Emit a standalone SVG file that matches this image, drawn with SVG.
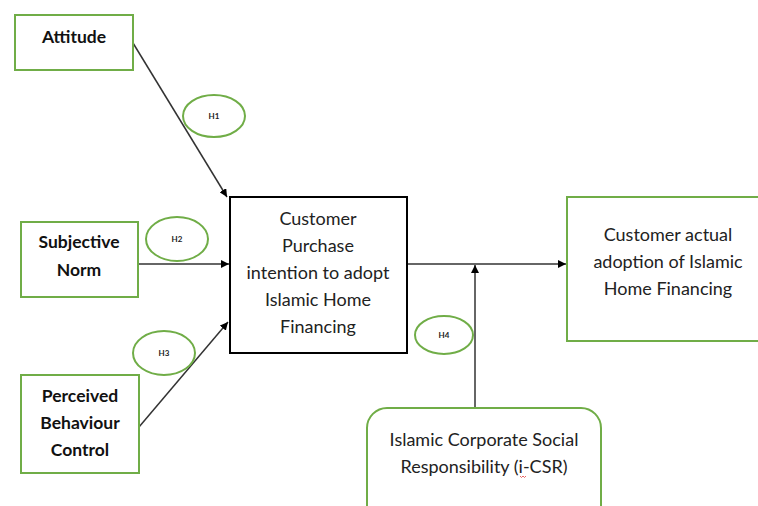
<svg xmlns="http://www.w3.org/2000/svg" width="758" height="506" viewBox="0 0 758 506">
<style>
.g{fill:#fff;stroke:#70AD47;stroke-width:2}
.k{fill:#fff;stroke:#000;stroke-width:2}
.e{fill:none;stroke:#70AD47;stroke-width:2}
.b{font-family:Lato,"Liberation Sans",sans-serif;font-weight:bold;font-size:17.5px;fill:#111;text-anchor:middle}
.t{font-family:Lato,"Liberation Sans",sans-serif;font-size:18px;fill:#222;text-anchor:middle}
.h{font-family:Lato,"Liberation Sans",sans-serif;font-size:8px;font-weight:bold;fill:#222;text-anchor:middle}
.c{stroke:#333;stroke-width:1.5;fill:none;marker-end:url(#a)}
</style>
<defs>
<marker id="a" viewBox="0 0 10 10" refX="10" refY="5" markerWidth="8" markerHeight="8" markerUnits="userSpaceOnUse" orient="auto">
<path d="M0,0 L10,5 L0,10 z" fill="#000"/>
</marker>
</defs>
<rect width="758" height="506" fill="#fff"/>
<g id="connectors">
<line class="c" x1="133" y1="43" x2="227" y2="197"/>
<line class="c" x1="138" y1="264" x2="229" y2="264"/>
<line class="c" x1="139" y1="427" x2="228" y2="322"/>
<line class="c" x1="407" y1="264" x2="566" y2="264"/>
<line class="c" x1="475" y1="408" x2="475" y2="265"/>
</g>
<g id="attitude">
<rect class="g" x="15" y="15" width="118" height="55"/>
<text class="b" x="74" y="43">Attitude</text>
</g>
<g id="subjective-norm">
<rect class="g" x="21" y="222" width="117" height="75"/>
<text class="b" x="79" y="248">Subjective</text>
<text class="b" x="79" y="276">Norm</text>
</g>
<g id="pbc">
<rect class="g" x="21" y="375" width="118" height="98"/>
<text class="b" x="80" y="402">Perceived</text>
<text class="b" x="80" y="429">Behaviour</text>
<text class="b" x="80" y="456">Control</text>
</g>
<g id="intention">
<rect class="k" x="230" y="197" width="177" height="156"/>
<text class="t" x="318" y="225">Customer</text>
<text class="t" x="318" y="252">Purchase</text>
<text class="t" x="318" y="279">intention to adopt</text>
<text class="t" x="318" y="306">Islamic Home</text>
<text class="t" x="318" y="333">Financing</text>
</g>
<g id="adoption">
<rect class="g" x="567" y="197" width="200" height="144"/>
<text class="t" x="668" y="241">Customer actual</text>
<text class="t" x="668" y="268">adoption of Islamic</text>
<text class="t" x="668" y="295">Home Financing</text>
</g>
<g id="icsr">
<rect class="g" x="367" y="408" width="234" height="120" rx="20"/>
<text class="t" x="484" y="446">Islamic Corporate Social</text>
<text class="t" x="484" y="473">Responsibility (i-CSR)</text>
<path d="M520,476 l1.5,1.5 l1.5,-1.5 l1.5,1.5 l1.5,-1.5" fill="none" stroke="#e04040" stroke-width="0.8"/>
</g>
<g id="h1"><ellipse class="e" cx="214" cy="116" rx="31" ry="21"/><text class="h" x="214" y="119">H1</text></g>
<g id="h2"><ellipse class="e" cx="177" cy="239" rx="31" ry="22"/><text class="h" x="177" y="242">H2</text></g>
<g id="h3"><ellipse class="e" cx="164" cy="353" rx="31" ry="22"/><text class="h" x="164" y="356">H3</text></g>
<g id="h4"><ellipse class="e" cx="444" cy="335" rx="29" ry="19"/><text class="h" x="444" y="338">H4</text></g>
</svg>
